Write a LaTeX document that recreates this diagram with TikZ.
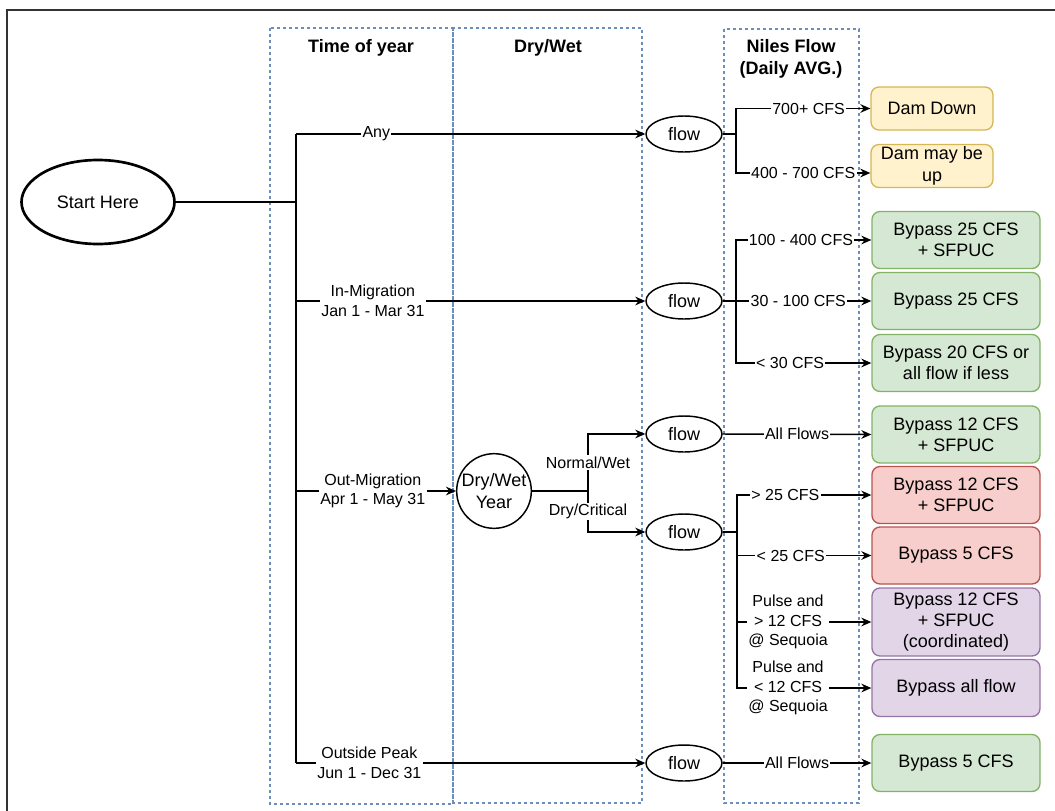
\documentclass[tikz,border=0pt]{standalone}
\usepackage{fontspec}
\setmainfont{Liberation Sans}
\usetikzlibrary{shapes.geometric,arrows.meta}
\tikzset {>={Stealth[length=7.5pt,width=6.5pt]}}

\definecolor{laneblue}{HTML}{6C8EBF}
\definecolor{framegray}{HTML}{333333}
\definecolor{yelfill}{HTML}{FFF2CC}
\definecolor{yeldraw}{HTML}{D6B656}
\definecolor{grnfill}{HTML}{D5E8D4}
\definecolor{grndraw}{HTML}{82B366}
\definecolor{redfill}{HTML}{F8CECC}
\definecolor{reddraw}{HTML}{B85450}
\definecolor{purfill}{HTML}{E1D5E7}
\definecolor{purdraw}{HTML}{9673A6}

\begin{document}
\begin{tikzpicture}[x=0.75pt,y=-0.75pt,line width=1.1pt,
  lane/.style={draw=laneblue,line width=0.9pt,dash pattern=on 2.5pt off 2pt},
  head/.style={font=\fontsize{13.5}{16}\selectfont\bfseries,align=center},
  txt/.style={font=\fontsize{13.5}{16}\selectfont,align=center},
  lbl/.style={fill=white,inner sep=1pt,font=\fontsize{12}{14.6}\selectfont,align=center},
  oval/.style={ellipse,draw,txt,inner sep=0pt,minimum width=57pt,minimum height=27pt},
  res/.style={draw,txt,rounded corners=6pt,line width=1pt,inner sep=0pt,minimum width=126pt,minimum height=42.75pt},
  yel/.style={res,fill=yelfill,draw=yeldraw,minimum width=91.5pt,minimum height=32.25pt},
  grn/.style={res,fill=grnfill,draw=grndraw},
  rd/.style={res,fill=redfill,draw=reddraw},
  pur/.style={res,fill=purfill,draw=purdraw}]

\useasboundingbox (0,0) rectangle (1055,810);

% Outer frame
\draw [line width=1.5pt,framegray] (1060,10) -- (7,10) -- (7,815);

% Lanes
\draw [lane] (270,28) rectangle (453,804);
\draw [lane] (453,28) rectangle (642,803);
\draw [lane] (724,29) rectangle (859,803);
\node[head] (hTime) at (361,48) {Time of year};
\node[head] (hDry) at (548,48) {Dry/Wet};
\node[head] (hNiles) at (791,59) {Niles Flow\\(Daily AVG.)};

% Start and decision nodes
\node[ellipse,draw,line width=2pt,txt,inner sep=0pt,minimum width=114.75pt,minimum height=63pt] (start) at (98,202) {Start Here};
\node[circle,draw,txt,inner sep=0pt,minimum size=56pt] (dw) at (494,491) {Dry/Wet\\Year};
\node[oval] (flowA) at (684,134) {flow};
\node[oval] (flowB) at (684,301) {flow};
\node[oval] (flowC) at (684,434) {flow};
\node[oval] (flowD) at (684,532) {flow};
\node[oval] (flowE) at (684,763) {flow};

% Outcomes
\node[yel] (damDown) at (932,108.5) {Dam Down};
\node[yel] (damUp) at (932,166) {Dam may be\\up};
\node[grn] (b25s) at (956,240) {Bypass 25 CFS\\+ SFPUC};
\node[grn] (b25) at (956,301) {Bypass 25 CFS};
\node[grn] (b20) at (956,363) {Bypass 20 CFS or\\all flow if less};
\node[grn] (g12) at (956,434.5) {Bypass 12 CFS\\+ SFPUC};
\node[rd] (r12) at (956,495) {Bypass 12 CFS\\+ SFPUC};
\node[rd] (r5) at (956,555.5) {Bypass 5 CFS};
\node[pur,minimum height=51pt] (p12) at (956,622) {Bypass 12 CFS\\+ SFPUC\\(coordinated)};
\node[pur] (pAll) at (956,688) {Bypass all flow};
\node[grn] (g5) at (956,763) {Bypass 5 CFS};

% Time of year trunk
\coordinate (tk) at (296,202);
\coordinate (tAny) at (296,134);
\coordinate (tIn) at (296,301);
\coordinate (tOut) at (296,491);
\coordinate (tPk) at (296,763);
\draw (start.east) -- (tk);
\draw (tAny) -- (tPk);
\draw [->] (tAny) -- node[lbl,pos=0.23] {Any} (flowA.west);
\draw [->] (tIn) -- node[lbl,pos=0.22] {In-Migration\\Jan 1 - Mar 31} (flowB.west);
\draw [->] (tOut) -- node[lbl,pos=0.48] {Out-Migration\\Apr 1 - May 31} (dw.west);
\draw [->] (tPk) -- node[lbl,pos=0.21] {Outside Peak\\Jun 1 - Dec 31} (flowE.west);

% Dry/Wet split
\coordinate (dsp) at (588,491);
\draw (dw.east) -- (dsp);
\draw [->] (dsp) -- node[lbl] {Normal/Wet} (dsp |- flowC.west) -- (flowC.west);
\draw [->] (dsp) -- node[lbl] {Dry/Critical} (dsp |- flowD.west) -- (flowD.west);

% Niles flow branches
\coordinate (jA) at (736,134);
\draw (flowA.east) -- (jA);
\draw [->] (jA) |- node[lbl,pos=0.77] {700+ CFS} (damDown.west);
\draw [->] (jA) |- node[lbl,pos=0.75] {400 - 700 CFS} ([yshift=-5.25pt]damUp.west);

\coordinate (jB) at (736,301);
\draw (flowB.east) -- (jB);
\draw [->] (jB) |- node[lbl,pos=0.74] {100 - 400 CFS} (b25s.west);
\draw [->] (jB) -- node[lbl,pos=0.46] {30 - 100 CFS} (b25.west);
\draw [->] (jB) |- node[lbl,pos=0.7] {< 30 CFS} (b20.west);

\draw [->] (flowC.east) -- node[lbl] {All Flows} (g12.west);

\coordinate (jD) at (737,532);
\draw (flowD.east) -- (jD);
\draw [->] (jD) |- node[lbl,pos=0.68] {> 25 CFS} (r12.west);
\draw [->] (jD) |- node[lbl,pos=0.7] {< 25 CFS} (r5.west);
\draw [->] (jD) |- node[lbl,pos=0.69] {Pulse and\\> 12 CFS\\@ Sequoia} (p12.west);
\draw [->] (jD) |- node[lbl,pos=0.69] {Pulse and\\< 12 CFS\\@ Sequoia} (pAll.west);

\draw [->] (flowE.east) -- node[lbl] {All Flows} (g5.west);

\end{tikzpicture}
\end{document}
